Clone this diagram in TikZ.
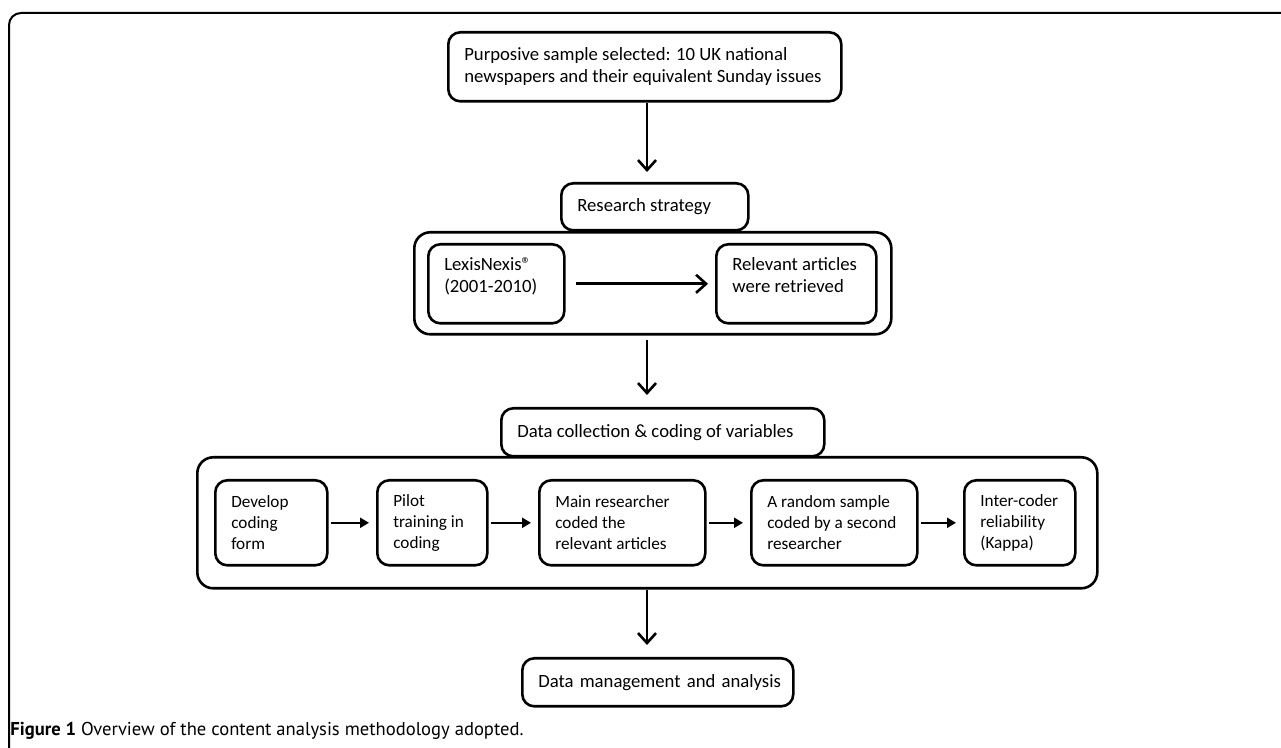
\documentclass[tikz,border=0pt]{standalone}
\usepackage{fontspec}
\setmainfont{Carlito}
\newfontfamily\capfont{PT Sans}
\usetikzlibrary{arrows.meta}

\begin{document}
\begin{tikzpicture}[x=0.5pt, y=-0.5pt,
  box/.style = {draw, line width=1.3pt, rounded corners=6pt, anchor=north west, inner sep=0pt,
    align=flush left, execute at begin node={\leftskip=8pt}, font=\fontsize{9.35}{11}\selectfont},
  small/.style = {font=\fontsize{8.6}{10.5}\selectfont},
  wrap/.style = {draw, line width=1.3pt, rounded corners=8pt, anchor=north west, inner sep=0pt},
  arr/.style = {-{Straight Barb[length=5pt,width=9pt]}, line width=1.3pt},
  tri/.style = {-{Triangle[length=4.5pt,width=5pt]}, line width=1.2pt, shorten <=1pt, shorten >=3.5pt}
  ]
	\useasboundingbox (0,0) rectangle (1281,748);
	\draw[line width=1pt, rounded corners=6pt] (9,748) -- (9,13) -- (1281,13);

	\coordinate (axis) at (647,0);

	% sampling
	\node[box, text width=196.5pt, minimum height=34.5pt] (samp) at (447,31)
		{Purposive sample selected: 10 UK national\\newspapers and their equivalent Sunday issues};

	% search
	\node[wrap, minimum width=238.5pt, minimum height=51pt] (search) at (413,231) {};
	\node[box, text width=93.5pt, minimum height=23.5pt] (strat) at (560,182) {Research strategy};
	\node[box, text width=68pt, minimum height=39.5pt, text depth=20pt] (lex) at (427,243)
		{LexisNexis\textregistered\\(2001-2010)};
	\node[box, text width=80pt, minimum height=39.5pt, text depth=20pt] (rel) at (715,243)
		{Relevant articles\\were retrieved};

	% coding
	\node[wrap, minimum width=450pt, minimum height=65.5pt] (code) at (196,456) {};
	\node[box, text width=161.5pt, minimum height=24pt] (coll) at (500,407)
		{Data collection \& coding of variables};
	\node[box, small, text width=56pt, minimum height=42.5pt] (dev) at (214,479) {Develop\\coding\\form};
	\node[box, small, text width=55pt, minimum height=42.5pt] (pil) at (376,479) {Pilot\\training in\\coding};
	\node[box, small, text width=83pt, minimum height=42.5pt] (main) at (538,479)
		{Main researcher\\coded the\\relevant articles};
	\node[box, small, text width=83pt, minimum height=42.5pt] (rand) at (750,479)
		{A random sample\\coded by a second\\researcher};
	\node[box, small, text width=55.5pt, minimum height=42.5pt] (inter) at (963,479)
		{Inter-coder\\reliability\\(Kappa)};

	\node[box, align=center, execute at begin node={}, text width=135.5pt, minimum height=24pt] (mgmt) at (521,657)
		{Data management and analysis};

	% arrows
	\draw[arr, shorten >=5pt] (axis |- samp.south) -- (axis |- strat.north);
	\draw[arr, shorten <=5pt, shorten >=3.5pt] (lex) -- (rel);
	\draw[arr, shorten <=2pt, shorten >=6pt] (axis |- search.south) -- (axis |- coll.north);
	\foreach \a/\b in {dev/pil, pil/main, main/rand, rand/inter}
		\draw[tri] (\a) -- (\b);
	\draw[arr, shorten >=6pt] (axis |- code.south) -- (axis |- mgmt.north);

	\node[anchor=base west, inner sep=0pt, font=\capfont\fontsize{9.3}{11}\selectfont] (cap) at (10,735)
		{\textbf{Figure 1} Overview of the content analysis methodology adopted.};
\end{tikzpicture}
\end{document}
